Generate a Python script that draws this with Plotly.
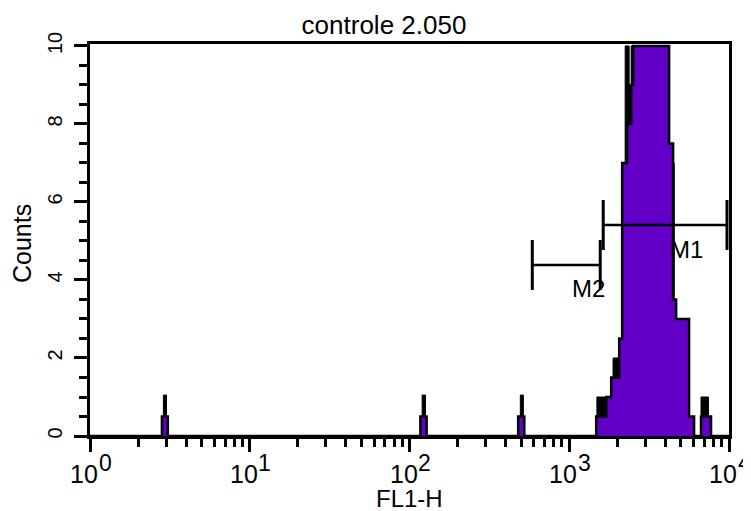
import math
import plotly.graph_objects as go

# Smoothed histogram (purple fill), step starts on FL1-H and counts
smooth_x = [1, 2.82, 3.07, 117, 128, 479, 523, 1475, 1703, 1830, 2054, 2144, 2304, 2441, 2512,
            4217, 4467, 4667, 5623, 6043, 6683, 7717, 10000]
smooth_y = [0, 0.5, 0, 0.5, 0, 0.5, 0, 0.5, 1.0, 1.5, 2.5, 7.0, 8.0, 9.0, 10.0,
            7.5, 3.5, 3.0, 0.5, 0, 0.5, 0, 0]

# Raw channel counts (black, behind the smoothed fill)
raw_x = [1, 2.88, 3.01, 120, 126, 494, 516, 1490, 1640, 1880, 2054, 2239, 2371, 2441,
         4217, 4540, 4780, 4850, 5560, 6680, 7440, 10000]
raw_y = [0, 1.05, 0, 1.05, 0, 1.05, 0, 1, 1, 2, 2, 10, 9, 10,
         7, 2, 3, 3, 0, 1, 0, 0]

# Markers: (name, left, right, level, label_x, label_y)
markers = [
    ("M1", 1632, 9716, 5.41, 5400, 4.77),
    ("M2", 587, 1563, 4.385, 1315, 3.77),
]
marker_tick_half = 0.64

title_text = "controle 2.050"
x_title = "FL1-H"
y_title = "Counts"
x_major = [1, 10, 100, 1000, 10000]
x_major_exp = ["0", "1", "2", "3", "4"]
x_minor = [m * d for d in [1, 10, 100, 1000] for m in range(2, 10)]
y_major = [0, 2, 4, 6, 8, 10]
y_minor = [v * 0.5 for v in range(0, 21)]

FONT = "Arial, Liberation Sans, sans-serif"
PURPLE = "#6300C8"

# The page body adds an 8px offset; lay the figure out in page pixels minus that.
OFF = 8
W, H = 751 - OFF, 511 - OFF
L, R, T, B = 90 - OFF, 729 - OFF, 44 - OFF, 436 - OFF
def py(p):
    return (B - (p - OFF)) / (B - T)
def px(p):
    return ((p - OFF) - L) / (R - L)

fig = go.Figure()
fig.add_trace(go.Scatter(x=raw_x, y=raw_y, mode="lines", fill="tozeroy", fillcolor="black",
                         line=dict(shape="hv", color="black", width=1),
                         hoverinfo="skip", showlegend=False))
fig.add_trace(go.Scatter(x=smooth_x, y=smooth_y, mode="lines", fill="tozeroy", fillcolor=PURPLE,
                         line=dict(shape="hv", color="black", width=2.5), showlegend=False))

for name, lo, hi, lev, lx, ly in markers:
    fig.add_trace(go.Scatter(x=[lo, hi], y=[lev, lev], mode="lines", line=dict(color="black", width=2.5),
                             showlegend=False, hoverinfo="skip"))
    for xv in (lo, hi):
        fig.add_trace(go.Scatter(x=[xv, xv], y=[lev - marker_tick_half, lev + marker_tick_half], mode="lines",
                                 line=dict(color="black", width=3), showlegend=False, hoverinfo="skip"))
    fig.add_annotation(x=math.log10(lx), y=ly, text=name, showarrow=False, xref="x", yref="y",
                       font=dict(family=FONT, size=24, color="black"))

# x tick labels (10^n): base and exponent as separate texts
for v, e in zip(x_major, x_major_exp):
    fig.add_annotation(x=math.log10(v), y=py(474), xref="x", yref="paper", showarrow=False,
                       xanchor="center", yanchor="middle", xshift=-6, text="10", borderpad=0,
                       font=dict(family=FONT, size=25, color="black"))
    fig.add_annotation(x=math.log10(v), y=py(463), xref="x", yref="paper", showarrow=False,
                       xanchor="center", yanchor="middle", xshift=15, text=e,
                       font=dict(family=FONT, size=23, color="black"))

fig.update_layout(
    width=W, height=H,
    margin=dict(l=L, r=W - R, t=T, b=H - B),
    plot_bgcolor="white", paper_bgcolor="white",
    title=dict(text=title_text, x=(384 - OFF) / W, xanchor="center", y=1 - (25 - OFF) / H, yanchor="middle",
               font=dict(family=FONT, size=26, color="black")),
    font=dict(family=FONT, color="black"),
)
fig.add_annotation(text=x_title, x=px(409), y=py(498), xref="paper", yref="paper", showarrow=False,
                   xanchor="center", yanchor="middle", borderpad=0,
                   font=dict(family=FONT, size=24, color="black"))
fig.add_annotation(text=y_title, x=px(22), y=py(244), xref="paper", yref="paper",
                   showarrow=False, textangle=-90, xanchor="center", yanchor="middle",
                   font=dict(family=FONT, size=25, color="black"))

fig.update_xaxes(type="log", range=[0, 4], tickmode="array", tickvals=x_major, showticklabels=False,
                 ticks="outside", ticklen=13, tickwidth=2.5, tickcolor="black",
                 minor=dict(tickmode="array", tickvals=x_minor, ticks="outside", ticklen=8, tickwidth=2.5,
                            tickcolor="black"),
                 showline=True, linewidth=3, linecolor="black", mirror=True, showgrid=False, zeroline=False,
                 automargin=False)
fig.update_yaxes(range=[0, 10.05], tickmode="array", tickvals=y_major, ticktext=[str(v) for v in y_major],
                 ticks="outside", ticklen=13, tickwidth=2.5, tickcolor="black", tickangle=-90,
                 ticklabelstandoff=4,
                 minor=dict(tickmode="array", tickvals=y_minor, ticks="outside", ticklen=8, tickwidth=2.5,
                            tickcolor="black"),
                 showline=True, linewidth=3, linecolor="black", mirror=True, showgrid=False, zeroline=False,
                 automargin=False, tickfont=dict(family=FONT, size=20, color="black"))

fig.write_html("out.html")
